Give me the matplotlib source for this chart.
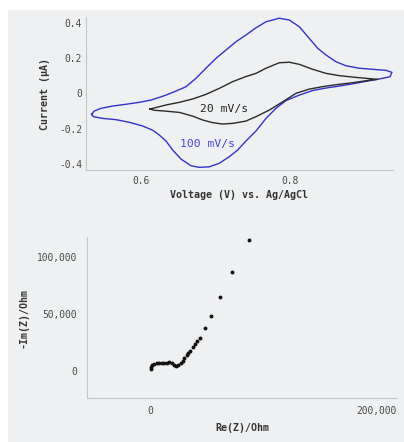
#coding:utf-8

import matplotlib
matplotlib.use("Agg")
import matplotlib.pyplot as plt
from matplotlib.patches import Rectangle
from matplotlib.ticker import FuncFormatter


# cyclic voltammograms (V, uA)
# 100 mV/s : forward (upper) branch then reverse (lower) branch
cv100_fwd_v = [0.5338, 0.5373, 0.5463, 0.5620, 0.5799, 0.5977, 0.6134, 0.6246, 0.6336,
               0.6470, 0.6604, 0.6738, 0.6872, 0.7007, 0.7141, 0.7275, 0.7409, 0.7544,
               0.7678, 0.7856, 0.7991, 0.8125, 0.8259, 0.8372, 0.8483, 0.8617, 0.8752,
               0.8930, 0.9110, 0.9289, 0.9369]
cv100_fwd_i = [-0.119, -0.100, -0.085, -0.072, -0.062, -0.051, -0.038, -0.023, -0.010,
               0.013, 0.037, 0.085, 0.142, 0.198, 0.245, 0.292, 0.330, 0.371,
               0.405, 0.425, 0.415, 0.377, 0.311, 0.255, 0.217, 0.179, 0.156,
               0.142, 0.136, 0.130, 0.119]
cv100_rev_v = [0.9342, 0.9244, 0.9064, 0.8842, 0.8662, 0.8483, 0.8305, 0.8125, 0.7946,
               0.7812, 0.7678, 0.7544, 0.7409, 0.7298, 0.7185, 0.7051, 0.6917, 0.6783,
               0.6671, 0.6537, 0.6426, 0.6336, 0.6246, 0.6157, 0.6023, 0.5843, 0.5664,
               0.5486, 0.5360, 0.5338]
cv100_rev_i = [0.094, 0.085, 0.071, 0.054, 0.041, 0.030, 0.016, -0.010, -0.041,
               -0.085, -0.142, -0.213, -0.270, -0.321, -0.359, -0.396, -0.416, -0.419,
               -0.410, -0.372, -0.321, -0.270, -0.236, -0.209, -0.185, -0.164, -0.149,
               -0.142, -0.132, -0.119]

# 20 mV/s
cv20_fwd_v = [0.6121, 0.6224, 0.6336, 0.6514, 0.6694, 0.6872, 0.7051, 0.7231, 0.7409,
              0.7544, 0.7678, 0.7856, 0.7991, 0.8125, 0.8305, 0.8483, 0.8662, 0.8842,
              0.9020, 0.9177]
cv20_fwd_i = [-0.089, -0.078, -0.066, -0.051, -0.032, -0.006, 0.028, 0.066, 0.095,
              0.113, 0.142, 0.173, 0.176, 0.164, 0.136, 0.113, 0.100, 0.092,
              0.085, 0.079]
cv20_rev_v = [0.9177, 0.9064, 0.8842, 0.8662, 0.8483, 0.8259, 0.8081, 0.7902, 0.7722,
              0.7544, 0.7409, 0.7231, 0.7097, 0.6962, 0.6828, 0.6694, 0.6514, 0.6336,
              0.6179, 0.6121]
cv20_rev_i = [0.079, 0.074, 0.060, 0.051, 0.041, 0.024, 0.000, -0.048, -0.095,
              -0.132, -0.157, -0.170, -0.174, -0.166, -0.151, -0.129, -0.108, -0.101,
              -0.096, -0.089]

# Nyquist plot (Ohm)
re_z = [590, 880, 1770, 3540, 5900, 8260, 10320, 12390, 14750, 17110, 19170, 21240,
        23000, 25050, 27150, 28900, 30370, 32450, 33900, 35400, 37750, 39800, 41900,
        44250, 48400, 53985, 61950, 72300, 87900]
im_z = [1760, 3530, 5300, 5910, 6530, 7060, 7060, 6800, 7060, 7680, 6530, 5030,
        4150, 5030, 7060, 8820, 10940, 13850, 15350, 17650, 20650, 23560, 26200,
        28590, 37680, 48270, 65300, 86800, 115300]

cv_xticks = [0.6, 0.8]
cv_yticks = [-0.4, -0.2, 0, 0.2, 0.4]
eis_xticks = [0, 200000]
eis_yticks = [0, 50000, 100000]

BG = "#eef0f2"
BLUE = "#3232c8"
TICK_C = "#4a4a4a"
LAB_C = "#333333"
MONO = "DejaVu Sans Mono"


def style_axes(ax):
    ax.set_facecolor("none")
    for s in ("top", "right"):
        ax.spines[s].set_visible(False)
    for s in ("left", "bottom"):
        ax.spines[s].set_color("#c4c6c8")
        ax.spines[s].set_linewidth(0.8)
    ax.tick_params(length=0, labelsize=6.9, labelcolor=TICK_C)
    for lab in ax.get_xticklabels() + ax.get_yticklabels():
        lab.set_family(MONO)


def cv_fmt(v, pos):
    if abs(v) < 1e-9:
        return "0"
    return "%.1f" % v


def main():
    fig = plt.figure(figsize=(4.04, 4.42), dpi=100, facecolor="white")
    fig.patches.append(Rectangle((8 / 404, 0), 1, 1 - 10 / 442, transform=fig.transFigure,
                                 facecolor=BG, edgecolor="none", zorder=-10))

    # --- cyclic voltammetry
    ax1 = fig.add_axes([86 / 404, 1 - 170 / 442, 307 / 404, 153 / 442])
    ax1.plot(cv100_fwd_v + cv100_rev_v, cv100_fwd_i + cv100_rev_i, color=BLUE, lw=1.0,
             clip_on=False, solid_joinstyle="round")
    ax1.plot(cv20_fwd_v + cv20_rev_v, cv20_fwd_i + cv20_rev_i, color="#2a2a2a", lw=1.0,
             solid_joinstyle="round")
    ax1.set_xlim(0.5262, 0.9383)
    ax1.set_ylim(-0.434, 0.432)
    ax1.set_xticks(cv_xticks)
    ax1.set_yticks(cv_yticks)
    ax1.yaxis.set_major_formatter(FuncFormatter(cv_fmt))
    ax1.xaxis.set_major_formatter(FuncFormatter(cv_fmt))
    style_axes(ax1)
    ax1.tick_params(axis="y", pad=3)
    ax1.tick_params(axis="x", pad=4)
    ax1.text(0.711, -0.089, "20 mV/s", family=MONO, fontsize=8.2, color="#222222",
             ha="center", va="center")
    ax1.text(0.689, -0.287, "100 mV/s", family=MONO, fontsize=8.2, color="#4646d2",
             ha="center", va="center")
    ax1.set_xlabel("Voltage (V) vs. Ag/AgCl", family=MONO, fontsize=7.2,
                   fontweight="bold", color=LAB_C, labelpad=3)
    ax1.set_ylabel("Current (\u00b5A)", family=MONO, fontsize=7.2,
                   fontweight="bold", color=LAB_C, labelpad=6)

    # --- impedance
    ax2 = fig.add_axes([87 / 404, 1 - 398 / 442, 310 / 404, 161 / 442])
    ax2.plot(re_z, im_z, "o", color="#111111", ms=2.8, mew=0)
    ax2.set_xlim(-55750, 218600)
    ax2.set_ylim(-24090, 117980)
    ax2.set_xticks(eis_xticks)
    ax2.set_yticks(eis_yticks)
    ax2.xaxis.set_major_formatter(FuncFormatter(lambda v, p: "{:,.0f}".format(v)))
    ax2.yaxis.set_major_formatter(FuncFormatter(lambda v, p: "{:,.0f}".format(v)))
    style_axes(ax2)
    ax2.tick_params(axis="y", pad=7)
    ax2.tick_params(axis="x", pad=6)
    ax2.set_xlabel("Re(Z)/Ohm", family=MONO, fontsize=7.2, fontweight="bold",
                   color=LAB_C, labelpad=5)
    ax2.set_ylabel("-Im(Z)/Ohm", family=MONO, fontsize=7.2, fontweight="bold",
                   color=LAB_C, labelpad=6)

    fig.savefig("out.png", dpi=100, facecolor="white")


if __name__ == '__main__':
    main()
